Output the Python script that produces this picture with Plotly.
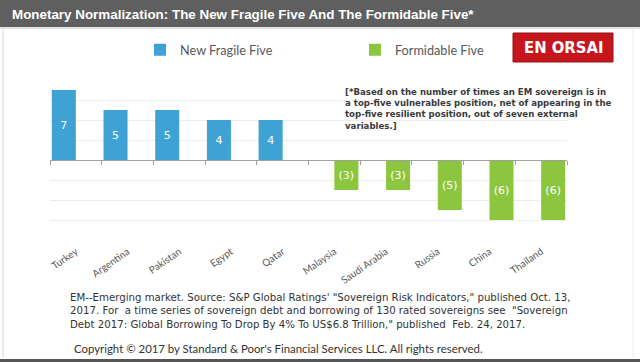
import plotly.graph_objects as go

# ---------------- data ----------------
countries = ["Turkey", "Argentina", "Pakistan", "Egypt", "Qatar",
             "Malaysia", "Saudi Arabia", "Russia", "China", "Thailand"]
fragile_five = [7, 5, 5, 4, 4, None, None, None, None, None]
formidable_five = [None, None, None, None, None, -3, -3, -5, -6, -6]
series_names = ["New Fragile Five", "Formidable Five"]

title_text = "Monetary Normalization: The New Fragile Five And The Formidable Five*"
note_lines = [
    "[*Based on the number of times an EM sovereign is in",
    "a top-five vulnerables position, net of appearing in the",
    "top-five resilient position, out of seven external",
    "variables.]",
]
footnote_lines = [
    "EM--Emerging market. Source: S&P Global Ratings' \"Sovereign Risk Indicators,\" published Oct. 13,",
    "2017. For  a time series of sovereign debt and borrowing of 130 rated sovereigns see  \"Sovereign",
    "Debt 2017: Global Borrowing To Drop By 4% To US$6.8 Trillion,\" published  Feb. 24, 2017.",
]
copyright_text = "Copyright © 2017 by Standard & Poor's Financial Services LLC. All rights reserved."
logo_text = "EN ORSAI"

# ---------------- style ----------------
W, H = 640, 362
BLUE = "#3EA2D4"
GREEN = "#8CC63F"
GRID = "#ececec"
AXIS = "#a0a0a0"
TXT = "#595959"
Y_MIN, Y_MAX = -8, 8


def px(x):
    return x / W


def py(y):
    return 1 - y / H


x_dom = [px(50), px(567)]
y_dom = [py(240), py(80)]
zero_pos = y_dom[0] + (0 - Y_MIN) / (Y_MAX - Y_MIN) * (y_dom[1] - y_dom[0])


def fmt(v):
    if v is None:
        return ""
    return f"({abs(v)})" if v < 0 else str(v)


fig = go.Figure()
fig.add_trace(go.Bar(
    x=countries, y=fragile_five, name=series_names[0],
    marker=dict(color=BLUE, line=dict(width=0)),
    text=[fmt(v) for v in fragile_five], textposition="inside",
    insidetextanchor="middle", textangle=0,
    textfont=dict(color="white", size=11, family="DejaVu Sans"),
    legend="legend", hoverinfo="skip",
))
fig.add_trace(go.Bar(
    x=countries, y=formidable_five, name=series_names[1],
    marker=dict(color=GREEN, line=dict(width=0)),
    text=[fmt(v) for v in formidable_five], textposition="inside",
    insidetextanchor="middle", textangle=0,
    textfont=dict(color="white", size=11, family="DejaVu Sans"),
    legend="legend2", hoverinfo="skip",
))
# invisible trace that carries the zero-line axis with boundary ticks
fig.add_trace(go.Bar(
    x=countries, y=[None] * len(countries), xaxis="x2", yaxis="y",
    showlegend=False, hoverinfo="skip",
))

fig.update_layout(
    width=W, height=H,
    margin=dict(l=0, r=0, t=0, b=0),
    paper_bgcolor="white", plot_bgcolor="white",
    barmode="group", bargap=0.07, bargroupgap=0,
    xaxis=dict(
        domain=x_dom, type="category", categoryorder="array", categoryarray=countries,
        showgrid=False, showline=False, ticks="", zeroline=False,
        tickangle=-35, ticklabelstandoff=3,
        tickfont=dict(family="Lato, Carlito, sans-serif", size=10, color=TXT),
        anchor="y", fixedrange=True,
    ),
    xaxis2=dict(
        domain=x_dom, type="category", matches="x", overlaying="x",
        anchor="free", position=zero_pos,
        showgrid=False, showline=True, linecolor=AXIS, linewidth=1,
        ticks="outside", tickson="boundaries", ticklen=4, tickcolor=AXIS, tickwidth=1,
        showticklabels=False, zeroline=False,
    ),
    yaxis=dict(
        domain=y_dom, range=[Y_MIN, Y_MAX], dtick=2, tick0=0,
        showgrid=True, gridcolor=GRID, gridwidth=1,
        zeroline=False, showline=False, showticklabels=False, ticks="",
    ),
    legend=dict(
        x=px(140), y=py(50), xanchor="left", yanchor="middle",
        orientation="h", bgcolor="rgba(0,0,0,0)", itemwidth=30,
        font=dict(family="Lato, Carlito, sans-serif", size=12.7, color=TXT),
    ),
    legend2=dict(
        x=px(355), y=py(50), xanchor="left", yanchor="middle",
        orientation="h", bgcolor="rgba(0,0,0,0)", itemwidth=30,
        font=dict(family="Lato, Carlito, sans-serif", size=12.7, color=TXT),
    ),
    showlegend=True,
)

shapes = [
    # title bar
    dict(type="rect", xref="paper", yref="paper", x0=0, x1=1, y0=py(27), y1=1,
         fillcolor="#5f5f5f", line=dict(width=0), layer="below"),
    dict(type="line", xref="paper", yref="paper", x0=0, x1=1, y0=py(28), y1=py(28),
         line=dict(color="#c8c8c8", width=1)),
    # side borders
    dict(type="line", xref="paper", yref="paper", x0=px(3), x1=px(3), y0=py(28), y1=py(358),
         line=dict(color="#d8d8d8", width=1)),
    dict(type="line", xref="paper", yref="paper", x0=px(633), x1=px(633), y0=py(28), y1=py(358),
         line=dict(color="#ececec", width=1)),
    # bottom border
    dict(type="rect", xref="paper", yref="paper", x0=0, x1=1, y0=0, y1=py(359),
         fillcolor="#555555", line=dict(width=0)),
    # logo box
    dict(type="rect", xref="paper", yref="paper", x0=px(513), x1=px(613), y0=py(62), y1=py(33),
         fillcolor="#C4161C", line=dict(color="#9a1015", width=1)),
]
fig.update_layout(shapes=shapes)

ann = [
    dict(text=f"<b>{title_text}</b>", x=px(10), y=py(14), xref="paper", yref="paper",
         xanchor="left", yanchor="middle", showarrow=False,
         font=dict(family="Liberation Sans, Arial, sans-serif", size=13.4, color="white")),
    dict(text=f"<b>{logo_text}</b>", x=px(563), y=py(47.5), xref="paper", yref="paper",
         xanchor="center", yanchor="middle", showarrow=False,
         font=dict(family="Liberation Sans Narrow, DejaVu Sans Condensed, sans-serif",
                   size=16.5, color="white")),
    dict(text="<br>".join(f"<b>{l}</b>" for l in note_lines),
         x=px(343), y=py(108.5), xref="paper", yref="paper",
         xanchor="left", yanchor="middle", align="left", showarrow=False,
         font=dict(family="DejaVu Sans, sans-serif", size=8.6, color="#3a3a3a")),
    dict(text="<br>".join(footnote_lines),
         x=px(68), y=py(311), xref="paper", yref="paper",
         xanchor="left", yanchor="middle", align="left", showarrow=False,
         font=dict(family="DejaVu Sans, sans-serif", size=10.2, color="#333333")),
    dict(text=copyright_text, x=px(72), y=py(348), xref="paper", yref="paper",
         xanchor="left", yanchor="middle", showarrow=False,
         font=dict(family="Lato, Carlito, sans-serif", size=11.4, color="#333333")),
]
fig.update_layout(annotations=ann)

fig.write_html(
    "out.html",
    config={"displayModeBar": False, "staticPlot": True},
    post_script="document.body.style.margin='0';document.body.style.padding='0';",
)
